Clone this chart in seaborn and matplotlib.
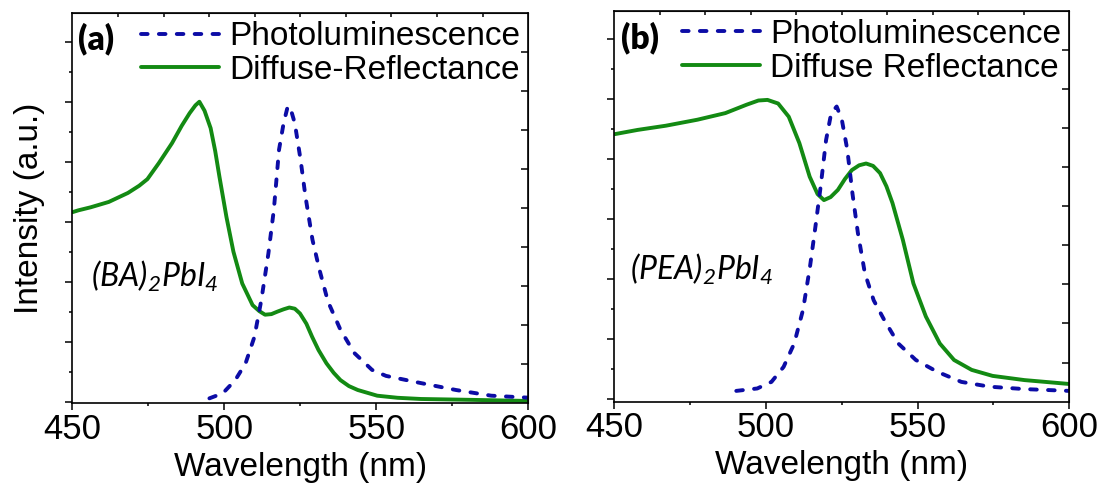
import numpy as np
import matplotlib
matplotlib.use("Agg")
import matplotlib.pyplot as plt
import seaborn as sns

# Panel (a): (BA)2PbI4
a_dr_nm = [450.1, 452, 456, 462, 468.3, 472, 474.7, 478.5, 482.8, 486, 488.6, 490.5, 491.8,
           493.5, 495.5, 497, 498.4, 500.7, 503, 505.9, 509.3, 511.5, 513.4,
           515.5, 517.4, 519.5, 521.4, 523.2, 524.9, 527, 528.9, 531, 533.6,
           536, 538.2, 541, 543.9, 550.3, 557, 564.7, 582, 600]
a_dr_val = [3.16, 3.19, 3.24, 3.33, 3.48, 3.60, 3.71, 3.98, 4.31, 4.60, 4.81, 4.94, 5.0,
            4.85, 4.56, 4.18, 3.75, 3.08, 2.5, 1.97, 1.61, 1.51, 1.45,
            1.46, 1.50, 1.54, 1.57, 1.55, 1.47, 1.30, 1.08, 0.86, 0.64,
            0.48, 0.36, 0.26, 0.195, 0.10, 0.065, 0.045, 0.03, 0.012]
a_pl_nm = [495.1, 499.5, 503.6, 507, 509.9, 512.2, 514.5, 516.3, 518, 519.5,
           520.9, 522, 523.2, 525.1, 526.7, 529, 531.3, 534.1, 538.2, 542.8,
           548.6, 553.2, 564.7, 576.2, 587.8, 600]
a_pl_val = [0.056, 0.14, 0.36, 0.64, 1.08, 1.70, 2.47, 3.2, 4.2, 4.64,
            4.93, 4.85, 4.64, 4.03, 3.42, 2.70, 2.2, 1.67, 1.2, 0.81,
            0.53, 0.43, 0.31, 0.195, 0.10, 0.067]

# Panel (b): (PEA)2PbI4
b_dr_nm = [450.2, 457.7, 467, 477.4, 486.6, 493.6, 497.5, 500.5, 504, 507.5,
           511, 514.4, 517, 519.1, 521.3, 523.7, 526, 528.3, 530.7, 533,
           535.3, 537.6, 539.7, 541.7, 545.1, 548.6, 552.7, 557.3, 562,
           567.8, 574.7, 585.2, 600]
b_dr_val = [4.42, 4.49, 4.56, 4.66, 4.77, 4.91, 4.98, 4.99, 4.93, 4.71,
            4.27, 3.71, 3.42, 3.32, 3.37, 3.49, 3.67, 3.82, 3.90, 3.93,
            3.89, 3.77, 3.55, 3.27, 2.66, 1.93, 1.38, 0.93, 0.655,
            0.49, 0.39, 0.32, 0.255]
b_pl_nm = [490.2, 497.1, 501.8, 505.8, 509.3, 512.2, 514.5, 516.3, 518, 519.8,
           521.5, 523.3, 525, 526.8, 528.5, 530.3, 532.6, 535.5, 539, 543.6,
           549.4, 556.4, 564.4, 573.7, 585.2, 600]
b_pl_val = [0.14, 0.18, 0.29, 0.54, 0.93, 1.49, 2.21, 2.88, 3.54, 4.32,
            4.77, 4.88, 4.66, 4.16, 3.43, 2.77, 2.1, 1.65, 1.32, 0.93,
            0.655, 0.46, 0.29, 0.21, 0.17, 0.14]

panels = [
    dict(dr_nm=a_dr_nm, dr_val=a_dr_val, pl_nm=a_pl_nm, pl_val=a_pl_val,
         tag="(a)", formula=r"$\mathit{(BA)_2PbI_4}$", dr_label="Diffuse-Reflectance",
         rect=[0.0658, 0.1786, 0.4149, 0.795], ylim=(-0.027, 6.48),
         tag_pos=(0.012, 0.933), form_pos=(0.04, 0.299), ylabel="Intensity (a.u.)"),
    dict(dr_nm=b_dr_nm, dr_val=b_dr_val, pl_nm=b_pl_nm, pl_val=b_pl_val,
         tag="(b)", formula=r"$\mathit{(PEA)_2PbI_4}$", dr_label="Diffuse Reflectance",
         rect=[0.559, 0.1819, 0.414, 0.7967], ylim=(-0.04, 6.48),
         tag_pos=(0.014, 0.93), form_pos=(0.035, 0.311), ylabel=None),
]

PL_COLOR = "#0c0ca6"
DR_COLOR = "#138a13"

sns.set_style("ticks")
plt.rcParams['font.family'] = ['Liberation Sans', 'DejaVu Sans']
plt.rcParams['text.color'] = 'black'
plt.rcParams['axes.labelcolor'] = 'black'
plt.rcParams['xtick.color'] = 'black'
plt.rcParams['ytick.color'] = 'black'
plt.rcParams['mathtext.fontset'] = 'custom'
plt.rcParams['mathtext.it'] = 'Lato:italic'
plt.rcParams['mathtext.rm'] = 'Lato:italic'

fig = plt.figure(figsize=(10.99, 4.91), dpi=100)

for p in panels:
    ax = fig.add_axes(p["rect"])
    sns.lineplot(x=p["dr_nm"], y=p["dr_val"], ax=ax, color=DR_COLOR, lw=2.8,
                 label=p["dr_label"])
    sns.lineplot(x=p["pl_nm"], y=p["pl_val"], ax=ax, color=PL_COLOR, lw=2.8,
                 label="Photoluminescence")
    dr_line, pl_line = ax.lines[0], ax.lines[1]
    dr_line.set_solid_joinstyle("round")
    pl_line.set_linestyle((0, (1.7, 2.9)))
    pl_line.set_dash_capstyle("round")

    ax.set_xlim(450, 600)
    ax.set_ylim(*p["ylim"])
    ax.set_xticks([450, 500, 550, 600])
    ax.set_xticks([475, 525, 575], minor=True)
    ax.set_yticks(np.arange(0, 7))
    ax.set_yticks(np.arange(0.5, 6.5, 1), minor=True)
    ax.set_yticklabels([])
    ax.tick_params(axis="both", which="major", length=5, width=1.1, labelsize=25,
                   pad=2, color="black", labelcolor="black")
    ax.tick_params(axis="both", which="minor", length=2.5, width=1.1, color="black")
    for s in ax.spines.values():
        s.set_linewidth(1.2)
        s.set_color("black")
    ax.set_xlabel("Wavelength (nm)", fontsize=24, labelpad=4)
    if p["ylabel"]:
        ax.set_ylabel(p["ylabel"], fontsize=24, labelpad=13)
    else:
        ax.set_ylabel("")

    # inward ticks on top and right, ten equal divisions
    y0, y1 = p["ylim"]
    top = ax.secondary_xaxis("top", functions=(lambda x: (x - 450) / 15.0,
                                                lambda t: 450 + 15.0 * t))
    top.set_xticks(np.arange(1, 10))
    top.tick_params(direction="in", length=3, width=1.1, labeltop=False, color="black")
    right = ax.secondary_yaxis("right", functions=(
        lambda y, y0=y0, y1=y1: (y - y0) / (y1 - y0) * 10.0,
        lambda t, y0=y0, y1=y1: y0 + t / 10.0 * (y1 - y0)))
    right.set_yticks(np.arange(1, 10))
    right.tick_params(direction="in", length=5, width=1.1, labelright=False, color="black")

    ax.legend(handles=[pl_line, dr_line],
              labels=["Photoluminescence", p["dr_label"]],
              loc="upper right", frameon=False, fontsize=24,
              handlelength=2.35, handletextpad=0.3, labelspacing=0.08,
              borderaxespad=0.15, borderpad=0.1)

    ax.text(p["tag_pos"][0], p["tag_pos"][1], p["tag"], transform=ax.transAxes,
            fontsize=24, fontweight="heavy", family=["Lato", "DejaVu Sans"],
            ha="left", va="center")
    ax.text(p["form_pos"][0], p["form_pos"][1], p["formula"], transform=ax.transAxes,
            fontsize=23, ha="left", va="baseline")

fig.savefig("out.png", dpi=100)
